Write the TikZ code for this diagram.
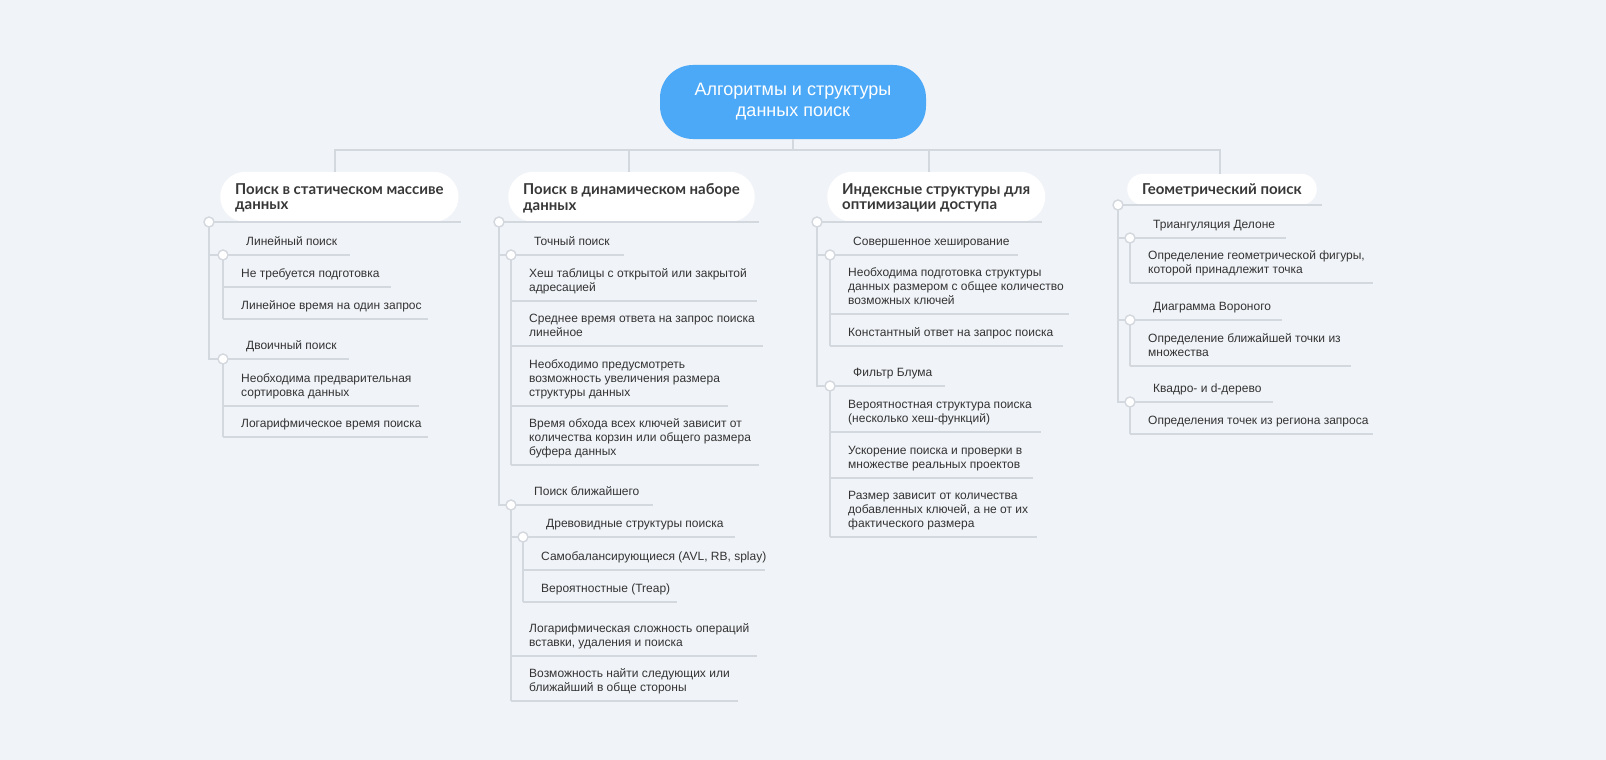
\documentclass[tikz,border=0pt]{standalone}
\usepackage{fontspec}
\setmainfont{Liberation Sans}
\newfontfamily\headfont{Lato}
\definecolor{bgc}{HTML}{F0F3F7}
\definecolor{linec}{HTML}{D3D8DE}
\definecolor{rootc}{HTML}{4CA9F8}
\definecolor{txtc}{HTML}{333333}
\definecolor{headc}{HTML}{383838}
\tikzset{
  conn/.style={draw=linec, line width=1.6pt},
  dot/.style={circle, draw=linec, fill=white, line width=1.4pt, minimum size=10pt, inner sep=0pt},
  leaf/.style={anchor=base west, align=left, inner sep=0pt, text=txtc, font=\fontsize{12}{13.7}\selectfont},
  catbox/.style={anchor=south west, fill=white, inner xsep=15pt, inner ysep=0pt, text depth=0pt, align=left, text=headc, font={\headfont\fontsize{15}{15.5}\selectfont\bfseries}},
  rootbox/.style={fill=rootc, rounded corners=33pt, minimum width=266pt, minimum height=74pt, text=white, align=center, font=\fontsize{18}{21}\selectfont}
}
% #1 name, #2 vertical x, #3 underline y, #4 end x, #5 text (last line sits 10 above the rule)
\newcommand\leafitem[5]{%
  \coordinate (#1-s) at (#2,#3);
  \coordinate (#1-e) at (#4,#3);
  \draw[conn] (#1-s) -- (#1-e);
  \node[leaf] (#1) at (#2+18,#3-10) {#5};
}
% #1 name, #2 circle x, #3 y, #4 end x, #5 text
\newcommand\childitem[5]{%
  \coordinate (#1) at (#2,#3);
  \coordinate (#1-e) at (#4,#3);
  \draw[conn] (#1) -- (#1-e);
  \node[leaf] (#1-t) at (#2+23,#3-10) {#5};
}
\begin{document}
\begin{tikzpicture}[x=1pt,y=-1pt]
\path[use as bounding box, fill=bgc] (0,0) rectangle (1606,760);

% root
\node[rootbox] (root) at (793,102) {Алгоритмы и структуры\\данных поиск};

% categories
\node[catbox, minimum height=50pt, rounded corners=25pt] (k1) at (220,222) {Поиск в статическом массиве\\данных};
\node[catbox, minimum height=50pt, rounded corners=25pt] (k2) at (508,222) {Поиск в динамическом наборе\\данных};
\node[catbox, minimum height=50pt, rounded corners=25pt] (k3) at (827,222) {Индексные структуры для\\оптимизации доступа};
\node[catbox, minimum height=31pt, rounded corners=15.5pt] (k4) at (1127,205) {Геометрический поиск};

% bus
\coordinate (b1) at (335,150);
\coordinate (b2) at (629,150);
\coordinate (b3) at (929,150);
\coordinate (b4) at (1220,150);
\draw[conn] (root.south) -- (root.south |- b1);
\draw[conn] (b1 |- k1.north) -- (b1) -- (b4) -- (b4 |- k4.north);
\draw[conn] (b2) -- (b2 |- k2.north);
\draw[conn] (b3) -- (b3 |- k3.north);

% category underlines
\coordinate (k1c) at (209,222); \coordinate (k1e) at (461,222);
\coordinate (k2c) at (499,222); \coordinate (k2e) at (759,222);
\coordinate (k3c) at (817,222); \coordinate (k3e) at (1042,222);
\coordinate (k4c) at (1118,205); \coordinate (k4e) at (1322,205);
\draw[conn] (k1c) -- (k1e);
\draw[conn] (k2c) -- (k2e);
\draw[conn] (k3c) -- (k3e);
\draw[conn] (k4c) -- (k4e);

% ---- category 1
\childitem{a1}{223}{255}{350}{Линейный поиск}
\childitem{a2}{223}{359}{349}{Двоичный поиск}
\draw[conn] (k1c) |- (a1);
\draw[conn] (k1c) |- (a2);
\leafitem{a1l1}{223}{287}{391}{Не требуется подготовка}
\leafitem{a1l2}{223}{319}{428}{Линейное время на один запрос}
\draw[conn] (a1) -- (a1l2-s);
\leafitem{a2l1}{223}{406}{419}{Необходима предварительная\\сортировка данных}
\leafitem{a2l2}{223}{437}{428}{Логарифмическое время поиска}
\draw[conn] (a2) -- (a2l2-s);

% ---- category 2
\childitem{p1}{511}{255}{624}{Точный поиск}
\childitem{p2}{511}{505}{653}{Поиск ближайшего}
\draw[conn] (k2c) |- (p1);
\draw[conn] (k2c) |- (p2);
\leafitem{p1l1}{511}{301}{757}{Хеш таблицы с открытой или закрытой\\адресацией}
\leafitem{p1l2}{511}{346}{763}{Среднее время ответа на запрос поиска\\линейное}
\leafitem{p1l3}{511}{406}{728}{Необходимо предусмотреть\\возможность увеличения размера\\структуры данных}
\leafitem{p1l4}{511}{465}{759}{Время обхода всех ключей зависит от\\количества корзин или общего размера\\буфера данных}
\draw[conn] (p1) -- (p1l4-s);
\childitem{p2a}{523}{537}{735}{Древовидные структуры поиска}
\draw[conn] (p2) |- (p2a);
\leafitem{p2al1}{523}{570}{765}{Самобалансирующиеся (AVL, RB, splay)}
\leafitem{p2al2}{523}{602}{677}{Вероятностные (Treap)}
\draw[conn] (p2a) -- (p2al2-s);
\leafitem{p2l1}{511}{656}{757}{Логарифмическая сложность операций\\вставки, удаления и поиска}
\leafitem{p2l2}{511}{701}{738}{Возможность найти следующих или\\ближайший в обще стороны}
\draw[conn] (p2) -- (p2l2-s);

% ---- category 3
\childitem{s1}{830}{255}{1018}{Совершенное хеширование}
\childitem{s2}{830}{386}{945}{Фильтр Блума}
\draw[conn] (k3c) |- (s1);
\draw[conn] (k3c) |- (s2);
\leafitem{s1l1}{830}{314}{1069}{Необходима подготовка структуры\\данных размером с общее количество\\возможных ключей}
\leafitem{s1l2}{830}{346}{1063}{Константный ответ на запрос поиска}
\draw[conn] (s1) -- (s1l2-s);
\leafitem{s2l1}{830}{432}{1041}{Вероятностная структура поиска\\(несколько хеш-функций)}
\leafitem{s2l2}{830}{478}{1033}{Ускорение поиска и проверки в\\множестве реальных проектов}
\leafitem{s2l3}{830}{537}{1037}{Размер зависит от количества\\добавленных ключей, а не от их\\фактического размера}
\draw[conn] (s2) -- (s2l3-s);

% ---- category 4
\childitem{g1}{1130}{238}{1286}{Триангуляция Делоне}
\childitem{g2}{1130}{320}{1282}{Диаграмма Вороного}
\childitem{g3}{1130}{402}{1273}{Квадро- и d-дерево}
\draw[conn] (k4c) |- (g1);
\draw[conn] (k4c) |- (g2);
\draw[conn] (k4c) |- (g3);
\leafitem{g1l1}{1130}{283}{1373}{Определение геометрической фигуры,\\которой принадлежит точка}
\draw[conn] (g1) -- (g1l1-s);
\leafitem{g2l1}{1130}{366}{1351}{Определение ближайшей точки из\\множества}
\draw[conn] (g2) -- (g2l1-s);
\leafitem{g3l1}{1130}{434}{1373}{Определения точек из региона запроса}
\draw[conn] (g3) -- (g3l1-s);

% dots
\foreach \n in {k1c,k2c,k3c,k4c,a1,a2,p1,p2,p2a,s1,s2,g1,g2,g3}
  \node[dot] (\n-dot) at (\n) {};
\end{tikzpicture}
\end{document}
